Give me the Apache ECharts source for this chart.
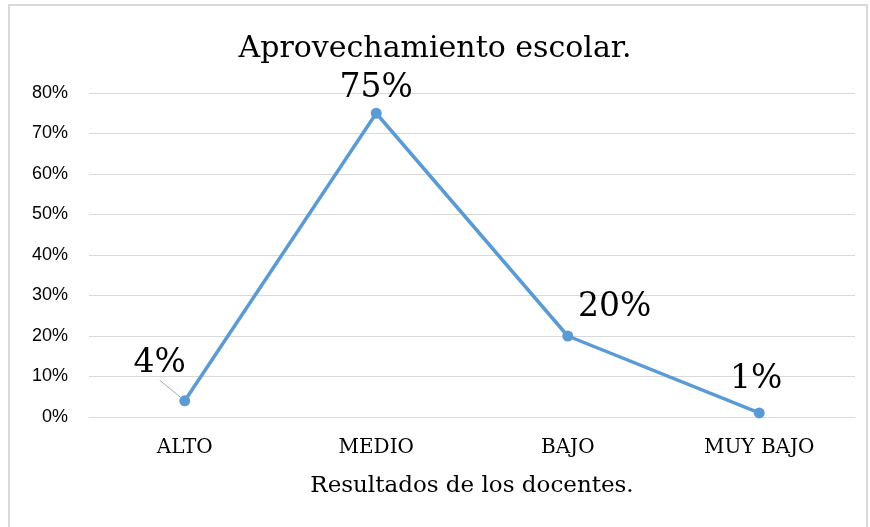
<!DOCTYPE html>
<html>
<head>
<meta charset="utf-8">
<script src="https://cdn.jsdelivr.net/npm/echarts@6/dist/echarts.min.js"></script>
<style>
  html, body { margin: 0; padding: 0; background: #fff; }
  #marco { position: absolute; left: 8px; top: 4px; width: 856px; height: 540px; border: 2px solid #d9d9d9; }
  #main { position: absolute; left: 0; top: 0; width: 870px; height: 527px; }
</style>
</head>
<body>
<div id="marco"></div>
<div id="main"></div>
<script>
  // datos del gráfico
  var categorias = ['ALTO', 'MEDIO', 'BAJO', 'MUY BAJO'];
  var porcentajes = [4, 75, 20, 1];
  var ticksY = [0, 10, 20, 30, 40, 50, 60, 70, 80];

  var serifa = '"DejaVu Serif", serif';
  // desplazamiento de cada etiqueta respecto a su punto
  var desplaz = [[-25, -10], [0, 2], [47, -2], [-3, -7]];

  var myChart = echarts.init(document.getElementById('main'));

  var option = {
    animation: false,
    title: {
      text: 'Aprovechamiento escolar.',
      left: 'center',
      top: 29,
      textStyle: { fontFamily: serifa, fontWeight: 'normal', fontSize: 30, color: '#000' }
    },
    grid: { left: 89, right: 15, top: 93, bottom: 110 },
    xAxis: {
      type: 'category',
      data: categorias,
      name: 'Resultados de los docentes.',
      nameLocation: 'middle',
      nameGap: 58,
      nameTextStyle: { fontFamily: serifa, fontSize: 23, color: '#000' },
      axisLine: { lineStyle: { color: '#d9d9d9', width: 1 } },
      axisTick: { show: false },
      axisLabel: { margin: 21, fontFamily: serifa, fontSize: 20, color: '#000' }
    },
    yAxis: {
      type: 'value',
      min: ticksY[0],
      max: ticksY[ticksY.length - 1],
      interval: 10,
      axisLine: { show: false },
      axisTick: { show: false },
      axisLabel: {
        formatter: '{value}%',
        margin: 21,
        fontFamily: '"Liberation Sans", Arial, sans-serif',
        fontSize: 18,
        color: '#000'
      },
      splitLine: { lineStyle: { color: '#d9d9d9', width: 1 } }
    },
    series: [{
      type: 'line',
      data: porcentajes.map(function (v, i) {
        return i === 0
          ? { value: v, labelLine: { show: true, lineStyle: { color: '#a6a6a6', width: 1 } } }
          : { value: v };
      }),
      symbol: 'circle',
      symbolSize: 11,
      lineStyle: { color: '#5b9bd5', width: 3.5 },
      itemStyle: { color: '#5b9bd5' },
      label: {
        show: true,
        position: 'top',
        formatter: '{c}%',
        fontFamily: serifa,
        fontSize: 33,
        color: '#000'
      },
      labelLayout: function (params) {
        var d = desplaz[params.dataIndex];
        return { dx: d[0], dy: d[1] };
      }
    }]
  };

  myChart.setOption(option);
</script>
</body>
</html>
